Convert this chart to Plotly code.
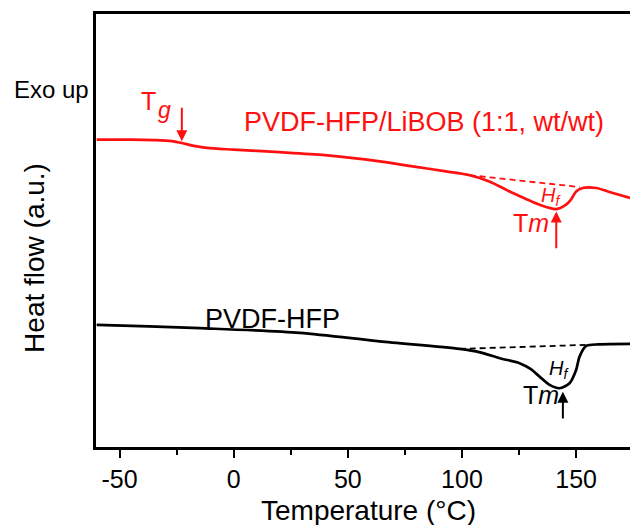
import plotly.graph_objects as go

# ---- data (temperature in °C, heat flow in arbitrary units, exo up) ----
red_T = [-60, -45, -35, -27, -22.7, -18, -11.7, 0, 20, 40, 64, 78.4, 93, 103.4,
         112, 122, 134, 141.3, 145.6, 148, 150, 152.9, 158.8, 165, 173.6]
red_H = [307, 307, 306.5, 305.5, 303.7, 301, 298.7, 297, 294.5, 291.5, 285.3, 280.3,
         275.3, 271.5, 265.3, 254, 242, 237.7, 242, 248, 255.3, 258.7, 258.7, 254.5, 248.7]
red_base_T = [103.4, 151.5]
red_base_H = [271.5, 259.7]

blk_T = [-60, -37, -14.7, 29, 64, 99, 108, 116.5, 125.2, 130, 134, 138.4,
         142.7, 147.1, 150, 151.5, 154.4, 160, 173.6]
blk_H = [122, 120.5, 118.7, 114, 105.5, 98, 94.5, 88.7, 83.7, 78, 70.3, 62,
         58.7, 63.7, 77, 90.3, 101, 102.5, 103]
blk_base_T = [99, 154.4]
blk_base_H = [98, 102]

x_ticks = [-50, 0, 50, 100, 150]
x_tick_labels = ["-50", "0", "50", "100", "150"]
x_minor_ticks = [-25, 25, 75, 125]

RED = "#FF1010"
FONT = "Arial, 'Liberation Sans', sans-serif"

fig = go.Figure()
fig.add_trace(go.Scatter(x=red_T, y=red_H, mode="lines",
                         line=dict(color=RED, width=2.7, shape="spline", smoothing=0.8)))
fig.add_trace(go.Scatter(x=red_base_T, y=red_base_H, mode="lines",
                         line=dict(color=RED, width=1.8, dash="6px,4px")))
fig.add_trace(go.Scatter(x=blk_T, y=blk_H, mode="lines",
                         line=dict(color="black", width=2.7, shape="spline", smoothing=0.8)))
fig.add_trace(go.Scatter(x=blk_base_T, y=blk_base_H, mode="lines",
                         line=dict(color="black", width=1.8, dash="6px,4px")))

ann = []
def txt(x, y, s, color, size, xref="x", yref="y", xanchor="center"):
    ann.append(dict(x=x, y=y, xref=xref, yref=yref, text=s, showarrow=False,
                    font=dict(family=FONT, size=size, color=color),
                    xanchor=xanchor, yanchor="middle", borderpad=0))

def arrow(x, y_tail, y_head, color):
    ann.append(dict(x=x, y=y_head, ax=x, ay=y_tail, xref="x", yref="y",
                    axref="x", ayref="y", text="", showarrow=True,
                    arrowhead=2, arrowsize=1.1, arrowwidth=2, arrowcolor=color))

txt(83.2, 325, "PVDF-HFP/LiBOB (1:1, wt/wt)", RED, 27)
txt(17, 127.5, "PVDF-HFP", "black", 27)
txt(-33.6, 345.5, "T", RED, 25, xanchor="right")
txt(-33.4, 336.5, "<i>g</i>", RED, 23, xanchor="left")
txt(130.4, 224, "T<i>m</i>", RED, 25)
txt(139.1, 250, "<i>H<sub>f</sub></i>", RED, 20)
txt(134.4, 52, "T<i>m</i>", "black", 25)
txt(142.7, 77, "<i>H<sub>f</sub></i>", "black", 20)
arrow(-22.7, 340.3, 305.3, RED)
arrow(141.3, 197, 235.3, RED)
arrow(144.2, 27, 55.3, "black")

# outside texts (axis titles and label)
txt(-0.0833, 0.825, "Exo up", "black", 24, "paper", "paper")
ann.append(dict(x=-0.114, y=0.437, xref="paper", yref="paper", text="Heat flow (a.u.)",
                showarrow=False, textangle=-90,
                font=dict(family=FONT, size=28, color="black"),
                xanchor="center", yanchor="middle"))
txt(0.511, -0.146, "Temperature (°C)", "black", 28, "paper", "paper")

fig.update_layout(
    width=630, height=525,
    margin=dict(l=96, r=0, t=14, b=78),
    paper_bgcolor="white", plot_bgcolor="white",
    showlegend=False,
    annotations=ann,
    xaxis=dict(range=[-60.3, 173.6], tickvals=x_ticks, ticktext=x_tick_labels,
               ticks="outside", ticklen=8, tickwidth=2, tickcolor="black",
               minor=dict(ticks="outside", ticklen=5, tickwidth=2, tickcolor="black",
                          tickvals=x_minor_ticks),
               showline=True, linecolor="black", linewidth=2.5, mirror=True,
               showgrid=False, zeroline=False, automargin=False,
               tickfont=dict(family=FONT, size=25, color="black")),
    yaxis=dict(range=[0, 432.5], showticklabels=False, ticks="",
               showline=True, linecolor="black", linewidth=2.5, mirror=False,
               showgrid=False, zeroline=False, automargin=False),
)

fig.write_html("out.html", config={"displayModeBar": False},
               post_script="document.body.style.margin='0';document.body.style.overflow='hidden';")
